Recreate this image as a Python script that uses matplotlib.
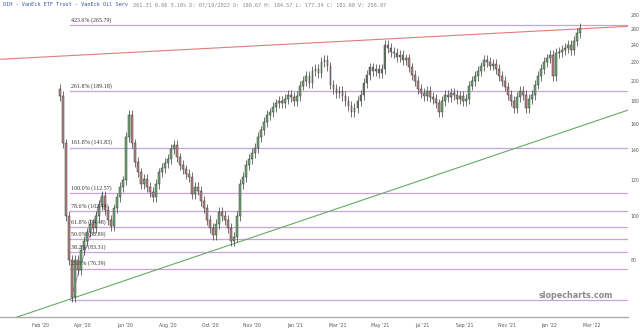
import matplotlib
matplotlib.use("Agg")
import matplotlib.pyplot as plt
import numpy as np

# closes (one sample every ~3 trading days)
first_open = 192
closes = [185, 145, 100, 80, 66, 80, 76, 84, 88, 92, 96, 94, 100, 106, 111, 103, 98, 95,
          104, 110, 116, 120, 150, 168, 145, 132, 125, 118, 121, 116, 113, 110, 118, 125,
          128, 131, 134, 141, 144, 135, 130, 127, 124, 122, 112, 116, 114, 108, 104, 98,
          94, 91, 96, 102, 100, 98, 94, 88, 90, 100, 118, 122, 130, 134, 138, 142, 150,
          155, 162, 168, 170, 175, 178, 180, 178, 182, 186, 184, 180, 185, 195, 200, 205,
          198, 210, 212, 208, 220, 222, 215, 196, 192, 188, 190, 185, 180, 176, 170, 174,
          180, 186, 198, 206, 214, 210, 212, 208, 212, 240, 236, 232, 230, 226, 228, 222,
          224, 214, 206, 200, 192, 188, 185, 190, 184, 182, 178, 170, 180, 186, 184, 188,
          186, 182, 185, 180, 182, 195, 200, 205, 210, 215, 222, 220, 216, 218, 212, 205,
          200, 194, 186, 180, 174, 184, 190, 186, 174, 182, 186, 196, 205, 212, 220, 224,
          228, 205, 230, 232, 234, 236, 240, 234, 245, 255, 262]
first_bar = 20
bar_step = 2.97

month_labels = ["Feb '20", "Apr '20", "Jun '20", "Aug '20", "Oct '20", "Nov '20", "Jan '21",
                "Mar '21", "May '21", "Jul '21", "Sep '21", "Nov '21", "Jan '22", "Mar '22"]
label_every = 42

fib_low = 65.22
fib_high = 112.57
fib_low_bar = 30
fib_high_bar = 62
fib_pcts = [0.0, 23.6, 38.2, 50.0, 61.8, 78.6, 100.0, 161.8, 261.8, 423.6]
yticks = [80, 100, 120, 140, 160, 180, 200, 220, 240, 260, 280]

red_bars = [-40, 582]
red_prices = [223, 264]
green_bars = [-40, 582]
green_prices = [57.9, 172.1]

fig = plt.figure(figsize=(6.4, 3.31), dpi=100)
ax = fig.add_axes([0, 14 / 331, 628 / 640, 317 / 331])
ax.set_yscale("log")
ax.set_ylim(59.7, 302)
ax.set_xlim(-39.6, 581.6)

# candles
xs = first_bar + np.arange(len(closes)) * bar_step
opens = [first_open] + closes[:-1]
for x, o, c in zip(xs, opens, closes):
    lo, hi = min(o, c), max(o, c)
    up = c >= o
    ax.vlines(x, lo * 0.975, hi * 1.025, color="#3a3a3a", lw=0.5, zorder=3)
    ax.bar(x, hi - lo, bottom=lo, width=1.9, color="#6fa86f" if up else "#b98282",
           edgecolor="#3a3a3a", linewidth=0.35, zorder=4)

# fib retracement
rng = fib_high - fib_low
for p in fib_pcts:
    lvl = fib_low + rng * p / 100
    ax.plot([fib_low_bar, 581.6], [lvl, lvl], color="#c9a3dd", lw=0.9, zorder=2)
    if p > 0:
        ax.text(fib_low_bar + 1, lvl * 1.012, f"{p:.1f}% ({lvl:.2f})", fontsize=4.3,
                family="Liberation Serif", color="#333333", va="bottom", ha="left", zorder=5)
ax.plot([fib_low_bar, fib_high_bar], [fib_low, fib_high], color="#b58fd0", lw=0.7, zorder=2)

# trendlines
ax.plot(red_bars, red_prices, color="#e07b7b", lw=0.8, zorder=2)
ax.plot(green_bars, green_prices, color="#66aa66", lw=0.8, zorder=2)

ax.yaxis.tick_right()
ax.yaxis.set_major_locator(matplotlib.ticker.FixedLocator(yticks))
ax.yaxis.set_minor_locator(matplotlib.ticker.NullLocator())
ax.set_yticklabels([str(v) for v in yticks])
ax.tick_params(axis="y", length=0, pad=2, labelsize=3.3, labelcolor="#555555")
ax.set_xticks(np.arange(len(month_labels)) * label_every)
ax.set_xticklabels(month_labels)
ax.tick_params(axis="x", length=0, pad=4, labelsize=3.3, labelcolor="#555555")
for s in ["top", "left", "right"]:
    ax.spines[s].set_visible(False)
ax.spines["bottom"].set_color("#aaaaaa")
ax.spines["bottom"].set_linewidth(1.0)

fig.text(3 / 640, 1 - 5 / 331, "OIH - VanEck ETF Trust - VanEck Oil Serv", fontsize=3.8,
         family="DejaVu Sans Mono", color="#3355aa", va="center", ha="left")
fig.text(133 / 640, 1 - 5 / 331,
         "261.31 0.06 3.18% D: 07/19/2022 O: 180.67 H: 184.57 L: 177.34 C: 181.60 V: 256.97",
         fontsize=3.8, family="DejaVu Sans Mono", color="#888888", va="center", ha="left")
fig.text(576 / 640, 1 - 296 / 331, "slopecharts.com", fontsize=5.8, color="#8a8a8a",
         fontweight="bold", ha="center", va="center")

fig.savefig("out.png", dpi=100)
